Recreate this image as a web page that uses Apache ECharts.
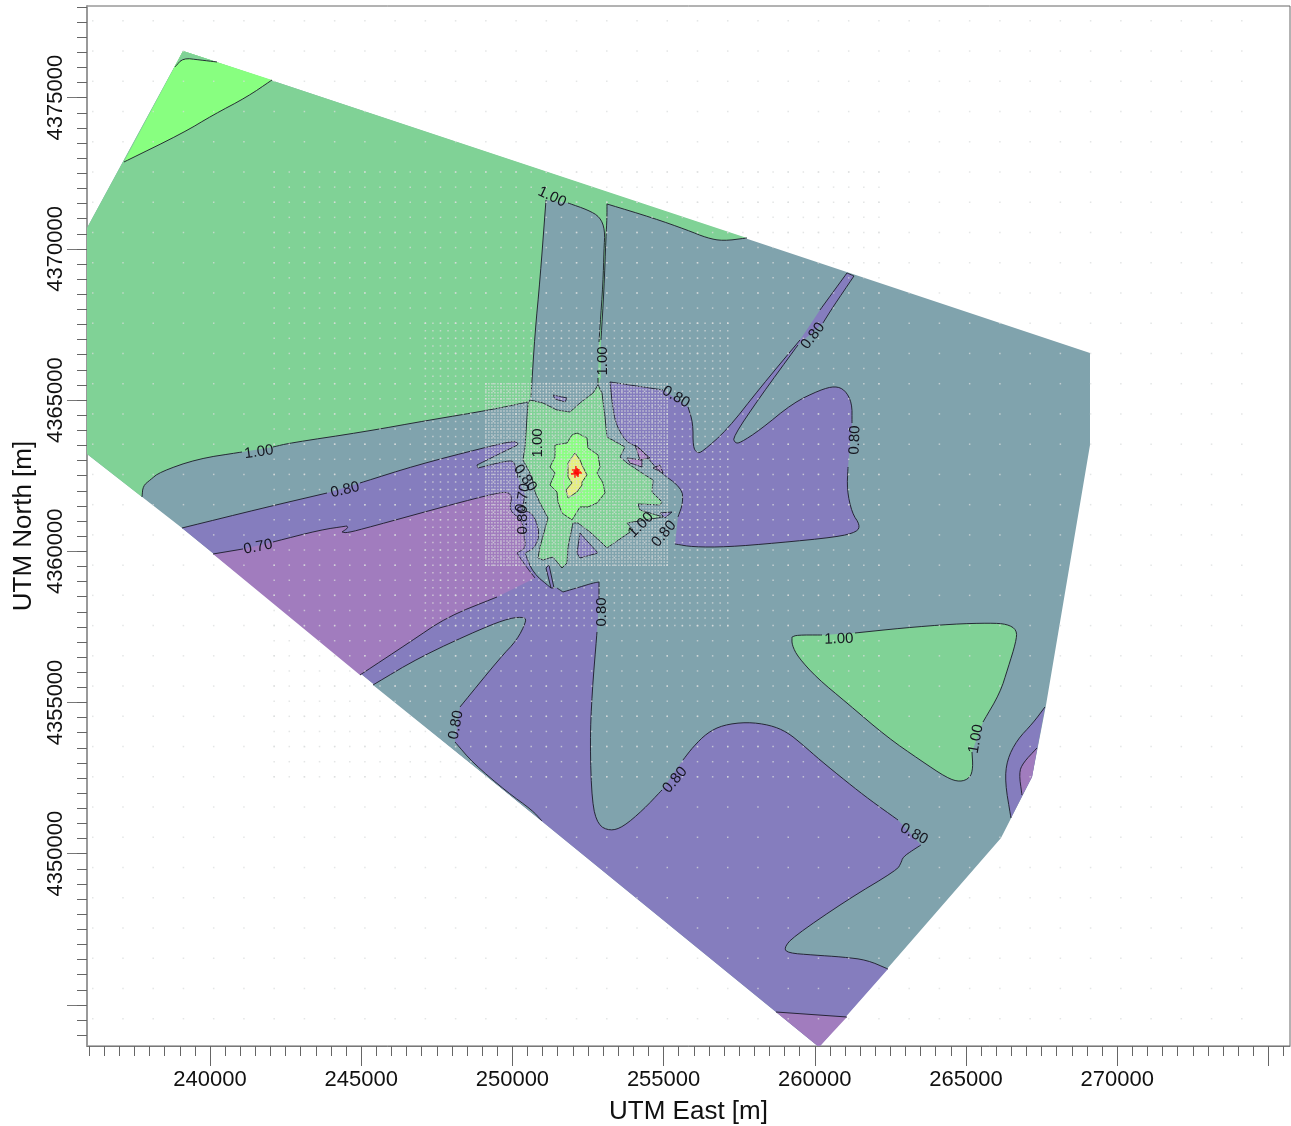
<!DOCTYPE html>
<html>
<head>
<meta charset="utf-8">
<style>html,body{margin:0;padding:0;background:#fff}#chart{width:1291px;height:1126px}</style>
<script src="https://cdn.jsdelivr.net/npm/echarts@6/dist/echarts.min.js"></script>
</head>
<body>
<div id="chart"></div>
<script>
// ---------- axes (UTM metres) ----------
const xMin = 235932, xMax = 275716, yMin = 4343640, yMax = 4378032;
const xMajorTicks = [240000,245000,250000,255000,260000,265000,270000,275000];
const xTickLabels = [240000,245000,250000,255000,260000,265000,270000];
const yMajorTicks = [4345000,4350000,4355000,4360000,4365000,4370000,4375000];
const yTickLabels = [4350000,4355000,4360000,4365000,4370000,4375000];
const xMinorTicks = [236000,236500,237000,237500,238000,238500,239000,239500,240000,240500,241000,241500,242000,242500,243000,243500,244000,244500,245000,245500,246000,246500,247000,247500,248000,248500,249000,249500,250000,250500,251000,251500,252000,252500,253000,253500,254000,254500,255000,255500,256000,256500,257000,257500,258000,258500,259000,259500,260000,260500,261000,261500,262000,262500,263000,263500,264000,264500,265000,265500,266000,266500,267000,267500,268000,268500,269000,269500,270000,270500,271000,271500,272000,272500,273000,273500,274000,274500,275000,275500];
const yMinorTicks = [4344000,4344500,4345000,4345500,4346000,4346500,4347000,4347500,4348000,4348500,4349000,4349500,4350000,4350500,4351000,4351500,4352000,4352500,4353000,4353500,4354000,4354500,4355000,4355500,4356000,4356500,4357000,4357500,4358000,4358500,4359000,4359500,4360000,4360500,4361000,4361500,4362000,4362500,4363000,4363500,4364000,4364500,4365000,4365500,4366000,4366500,4367000,4367500,4368000,4368500,4369000,4369500,4370000,4370500,4371000,4371500,4372000,4372500,4373000,4373500,4374000,4374500,4375000,4375500,4376000,4376500,4377000,4377500,4378000];

// ---------- domain outline ----------
const domainHull = [[235932,4370691],[239107,4376544],[269102,4366557],[269102,4363515],[267647,4354917],[267184,4352536],[266158,4350518],[260140,4343606],[239074,4360770],[235932,4363217]];

// ---------- contours (null = gap for a label; a repeated point keeps a sharp corner) ----------
const nwBright = [[237156,4372874],[239107,4373833],[240099,4374428],[241223,4375023],[242050,4375585]];
const nwCap = [[238842,4376015],[239107,4376313],[239669,4376247],[240231,4376181]];
const west100 = [[237751,4361795],[237784,4362159],[238016,4362357],[238346,4362622],[239569,4363052],[241058,4363283],null,[242083,4363449],[242645,4363581],[245059,4363945],[247275,4364342],[249259,4364672],[250516,4364937]];
const stripeWest100 = [[250615,4365102],[250747,4367219],[250913,4368971],[251111,4371617],null,[251839,4371518],[252500,4371286],[252897,4371055],[253062,4370625],[253029,4369963],[252996,4368872],[252897,4367417],[252864,4366921],null,[252831,4365731],[252831,4365499]];
const stripeEast100 = [[252930,4365731],null,[252930,4366987],[253029,4368641],[253095,4370393],[253128,4371022],[253128,4371485],[253128,4371485],[253128,4371485],[254650,4371022],[255774,4370625],[256436,4370360],[256965,4370261],[257758,4370360]];
const central100 = [[252831,4365499],[252963,4365234],[253062,4364441],[253128,4363779],[253724,4363449],[253558,4363118],[253790,4362920],[254286,4362589],[254650,4362357],[254617,4361961],[254948,4361630],[254881,4361531],[254153,4361564],[254220,4361365],[254981,4361134],[253790,4360935],[253988,4360704],[253128,4360109],[252963,4360274],[252566,4360638],[252169,4360935],[252004,4360935],[251839,4360142],[251806,4359613],[251640,4359447],[251343,4359811],[251012,4359712],[250847,4359778],[250913,4360142],[251177,4361101],[250913,4361597],[250747,4361961],[250648,4362457],[250351,4363019],[250417,4363449],[250516,4364904],[250582,4365003],[251012,4364904],[251475,4364672],[251905,4364606],[252236,4364904],[252666,4365234],[252831,4365499]];
const centralInner = [[252136,4363912],[252467,4363746],[252500,4363416],[252831,4363184],[252897,4362787],[252798,4362589],[252996,4362258],[253062,4361927],[252798,4361597],[252500,4361465],[252236,4361465],[251971,4361035],[251640,4361266],[251508,4361630],[251475,4361961],[251244,4362192],[251409,4362589],[251244,4362787],[251409,4363118],[251409,4363515],[251806,4363581],[251971,4363846],[252136,4363912]];
const centralCore = [[252070,4363250],[252236,4363019],[252302,4362853],[252467,4362523],[252302,4362291],[252302,4362192],[252136,4361961],[251839,4361762],[251773,4362027],[251971,4362258],[251839,4362457],[251839,4362920],[252070,4363250]];
const centralHalo = [[252136,4363283],[251905,4363019],[251673,4362424],[251706,4362093],[251839,4361795],[252236,4361861],[252368,4362192]];
const west80 = [[239074,4360770],[241752,4361431],[243869,4361927],null,[244960,4362258],[246845,4362853],[249028,4363416],[250020,4363647],[250185,4363581],[250185,4363515],[249822,4363349],[248829,4362853],[248829,4362853],[248862,4362754],[248862,4362754],[249921,4363019],[250086,4362920],[250185,4362424],null,[250417,4361861],[250318,4361365],[250318,4361365],[250681,4361266],[250913,4360605],[250747,4360109],[250417,4359943],[250417,4359943],[250681,4359282],[251277,4358786]];
const south80 = [[251475,4358786],[251673,4358654],[251673,4358654],[252236,4358819],[252666,4358951],[252864,4358984],[252864,4358984],[252864,4358455],null,[252798,4357331],[252633,4355313],[252566,4353660],[252633,4351676],[252831,4350948],[253228,4350750],[253657,4350882],[254319,4351444],[254947,4352106],null,[255642,4353098],[255973,4353528],[256436,4353991],[256965,4354255],[257758,4354354],[258519,4354255],[259081,4354024],[259610,4353594],[260172,4353098],[261065,4352370],[261826,4351775],[262752,4351114],null,[263512,4350287],[263249,4350121],[262918,4349890],[262852,4349692],[262719,4349460],[261065,4348468],[259280,4347244],[258982,4346881],[259114,4346715],[259941,4346649],[260933,4346583],[261727,4346484],[262421,4346186]];
const west70 = [[240099,4359910],[241091,4360076],null,[242083,4360307],[243637,4360704],[244530,4360836],[244530,4360836],[244563,4360770],[244365,4360638],[244365,4360638],[244530,4360605],[245291,4360803],[247937,4361531],[249491,4361927],[249855,4361961],[249987,4361795],[249921,4361531],[249954,4361299],[250318,4361035],[250384,4360539],[250450,4360109],[250152,4359943],[250152,4359943],[250417,4359547],[250747,4359116],[250747,4359116]];
const southWest70 = [[249491,4358488],[247837,4357827],[246614,4357000],[244960,4355909]];
const finger80 = [[245390,4355578],[246944,4356504],[249028,4357463],[249921,4357794],[250417,4357827],[250450,4357661],[250152,4357066],[249590,4356471],[248267,4354851],null,[248102,4353693],[248697,4352999],[249822,4352040],[250648,4351444],[250979,4351081]];
const bottom70 = [[258717,4344764],[261065,4344599]];
const east80 = [[267613,4354851],[267217,4354321],[266687,4353759],[266356,4353098],[266290,4352370],[266488,4351180]];
const east70 = [[267349,4353495],[266885,4352999],[266753,4352668],[266852,4351940]];
const eastCentral80 = [[253228,4365598],[253228,4365598],[254981,4365334],null,[255808,4364772],[255973,4364242],[255973,4363449],[256105,4363250],[256270,4363283],[257097,4364011],[258188,4365400],[259511,4366987],null,[260172,4367979],[261065,4369203],[261065,4369203],[261297,4369104],[261297,4369104],[260602,4368079],[260271,4367550],null,[259444,4366822],[258188,4365102],[257295,4363779],[257361,4363581],[257527,4363581],[258188,4364011],[259280,4364904],[260172,4365334],[260669,4365466],[261000,4365334],[261231,4364904],[261231,4364242],null,[261099,4362787],[261065,4362027],[261231,4361266],[261496,4360869],[261396,4360638],[260735,4360472],[258750,4360274],[257097,4360142],[255973,4360142],[255377,4360241],null,[255476,4361134],[255642,4361597],[255609,4362093],[254782,4362688],[254220,4363449],[253790,4363581],[253459,4364110],[253327,4364672],[253228,4365598],[253228,4365598]];
const east100 = [[259246,4357165],[259412,4357231],[260238,4357231],null,[261330,4357298],[262918,4357463],[264571,4357595],[265794,4357628],[266357,4357595],[266687,4357397],[266654,4357000],[266390,4356140],[266125,4355313],[265563,4354354],null,[265199,4353362],[265232,4352833],[265134,4352503],[264802,4352370],[264373,4352503],[263479,4353098],[262388,4353858],[261065,4354983],[260073,4355810],[259444,4356504],[259246,4356901],[259246,4357165]];
const patchA = [[254055,4363515],[254551,4363085],[254220,4363019],[254055,4363515]];
const patchB = [[253790,4363085],[254286,4363019],[254286,4362787],[253889,4362920],[253790,4363085]];
const patchC = [[254650,4362754],[254881,4362853],[254981,4362589],[254650,4362754]];
const patchD = [[254881,4361266],[255278,4361299],[255047,4361101],[254881,4361266]];
const patchE = [[251343,4365168],[251806,4365069],[251740,4364937],[251409,4365036],[251343,4365168]];
const patchF = [[252236,4360605],[252500,4360307],[252831,4359943],[252236,4359778],[252136,4359943],[252236,4360605]];
const patchG = [[251111,4359447],[251210,4359547],[251376,4358786],[251277,4358786],[251111,4359447]];

// ---------- contour labels ----------
const contourLabelText = ['1.00','1.00','0.80','0.80','0.80','1.00','0.80','0.70','1.00','0.80','0.70','0.80','1.00','0.80','0.80','1.00','1.00','0.80','0.80','0.80'];
const contourLabelX = [251310,252996,259941,255410,261330,241620,244464,241587,250847,250417,250351,250351,254253,255014,252963,260800,265332,248135,255377,263281];
const contourLabelY = [4371716,4366293,4367119,4365102,4363680,4363283,4362027,4360142,4363581,4362424,4361762,4361035,4360869,4360572,4357992,4357099,4353792,4354255,4352436,4350651];
const contourLabelAngle = [-25,90,52,-30,88,8,13,11,90,-55,80,90,45,50,90,2,80,80,50,-28];

// ---------- receptor grids ----------
const col1000 = [236122,237122,238122,239122,240122,241122,242122,243122,244122,245122,246122,247122,248122,249122,250122,251122,252122,253122,254122,255122,256122,257122,258122,259122,260122,261122,262122,263122,264122,265122,266122,267122,268122,269122,270122,271122,272122,273122,274122];
const row1000 = [4344542,4345542,4346542,4347542,4348542,4349542,4350542,4351542,4352542,4353542,4354542,4355542,4356542,4357542,4358542,4359542,4360542,4361542,4362542,4363542,4364542,4365542,4366542,4367542,4368542,4369542,4370542,4371542,4372542,4373542,4374542,4375542,4376542,4377542];
const col500 = [242122,242622,243122,243622,244122,244622,245122,245622,246122,246622,247122,247622,248122,248622,249122,249622,250122,250622,251122,251622,252122,252622,253122,253622,254122,254622,255122,255622,256122,256622,257122,257622,258122,258622,259122,259622,260122,260622,261122,261622,262122];
const row500 = [4352542,4353042,4353542,4354042,4354542,4355042,4355542,4356042,4356542,4357042,4357542,4358042,4358542,4359042,4359542,4360042,4360542,4361042,4361542,4362042,4362542,4363042,4363542,4364042,4364542,4365042,4365542,4366042,4366542,4367042,4367542,4368042,4368542,4369042,4369542,4370042,4370542,4371042,4371542,4372042,4372542];
const col250 = [247122,247372,247622,247872,248122,248372,248622,248872,249122,249372,249622,249872,250122,250372,250622,250872,251122,251372,251622,251872,252122,252372,252622,252872,253122,253372,253622,253872,254122,254372,254622,254872,255122,255372,255622,255872,256122,256372,256622,256872,257122];
const row250 = [4357542,4357792,4358042,4358292,4358542,4358792,4359042,4359292,4359542,4359792,4360042,4360292,4360542,4360792,4361042,4361292,4361542,4361792,4362042,4362292,4362542,4362792,4363042,4363292,4363542,4363792,4364042,4364292,4364542,4364792,4365042,4365292,4365542,4365792,4366042,4366292,4366542,4366792,4367042,4367292,4367542];
const col100 = [249122,249222,249322,249422,249522,249622,249722,249822,249922,250022,250122,250222,250322,250422,250522,250622,250722,250822,250922,251022,251122,251222,251322,251422,251522,251622,251722,251822,251922,252022,252122,252222,252322,252422,252522,252622,252722,252822,252922,253022,253122,253222,253322,253422,253522,253622,253722,253822,253922,254022,254122,254222,254322,254422,254522,254622,254722,254822,254922,255022,255122];
const row100 = [4359542,4359642,4359742,4359842,4359942,4360042,4360142,4360242,4360342,4360442,4360542,4360642,4360742,4360842,4360942,4361042,4361142,4361242,4361342,4361442,4361542,4361642,4361742,4361842,4361942,4362042,4362142,4362242,4362342,4362442,4362542,4362642,4362742,4362842,4362942,4363042,4363142,4363242,4363342,4363442,4363542,4363642,4363742,4363842,4363942,4364042,4364142,4364242,4364342,4364442,4364542,4364642,4364742,4364842,4364942,4365042,4365142,4365242,4365342,4365442,4365542];

// ---------- source points ----------
const sourcePoints = [[252100,4362690],[252137,4362622],[252070,4362560],[252170,4362590]];

// ---------- colours ----------
const TEAL='#80A3AD', GREEN='#80D296', BRIGHT='#88FF80', BLUE='#857DBE', PINK='#A17CBE', YELLOW='#E6F07C';

const corner = p => [p];
const fillLayers = [
  [TEAL, [domainHull]],
  [GREEN, [corner(domainHull[9]), west100, stripeWest100, stripeEast100, corner(domainHull[1]), corner(domainHull[0])]],
  [BRIGHT, [nwBright, corner(domainHull[1])]],
  [GREEN, [nwCap, corner(domainHull[1])]],
  [BLUE, [west80, south80, corner(domainHull[7])]],
  [PINK, [west70, southWest70]],
  [PINK, [bottom70, corner(domainHull[7])]],
  [TEAL, [finger80]],
  [BLUE, [east80, corner(domainHull[5])]],
  [PINK, [east70, corner(domainHull[5])]],
  [BLUE, [eastCentral80]],
  [GREEN, [east100]],
  [GREEN, [central100]],
  [BLUE, [patchF]],
  [BLUE, [patchG]],
  [BLUE, [patchE]],
  [PINK, [patchA]],
  [PINK, [patchB]],
  [PINK, [patchC]],
  [BLUE, [patchD]],
  [BRIGHT, [centralInner]],
  [YELLOW, [centralCore]]
];
const darkLines = [nwBright,nwCap,west100,stripeWest100,stripeEast100,central100,centralInner,centralCore,west80,south80,west70,southWest70,finger80,bottom70,east80,east70,eastCentral80,east100,patchA,patchB,patchC,patchD,patchE,patchF,patchG];
const jaggedLines = [central100,centralInner,centralCore,patchA,patchB,patchC,patchD,patchE,patchF,patchG];

const receptorGrids = [[col1000,row1000],[col500,row500],[col250,row250],[col100,row100]];
const receptorPoints = [];
receptorGrids.forEach(([cols,rows]) => rows.forEach(y => cols.forEach(x => receptorPoints.push([x,y]))));

function pieces(line){
  const out=[]; let cur=[];
  line.forEach(p=>{ if(p===null){ if(cur.length) out.push(cur); cur=[]; } else cur.push(p); });
  if(cur.length) out.push(cur);
  return out;
}
// the drawn curve rounds the corners of a traced contour, on screen only
function rounded(pts){
  let cur = pts;
  for(let n=0;n<2 && cur.length>2;n++){
    const next=[cur[0]];
    for(let i=0;i<cur.length-1;i++){
      const a=cur[i], b=cur[i+1];
      next.push([a[0]*.75+b[0]*.25, a[1]*.75+b[1]*.25],[a[0]*.25+b[0]*.75, a[1]*.25+b[1]*.75]);
    }
    next.push(cur[cur.length-1]);
    cur=next;
  }
  return cur;
}
function screenPieces(line, api){
  const jagged = jaggedLines.indexOf(line)>=0 || line===domainHull;
  return pieces(line).map(seg=>{
    const px = seg.map(p=>api.coord(p));
    return jagged ? px : rounded(px);
  });
}
function renderFill(params, api){
  const layer = fillLayers[params.dataIndex];
  const pts = [];
  layer[1].forEach(part => screenPieces(part, api).forEach(seg => seg.forEach(p => pts.push(p))));
  return {type:'polygon', silent:true, shape:{points:pts}, style:{fill:layer[0], stroke:null}};
}
function renderLines(lines, color, width){
  return function(params, api){
    return {type:'group', children: screenPieces(lines[params.dataIndex], api).map(seg=>({
      type:'polyline', silent:true, shape:{points:seg},
      style:{stroke:color, fill:null, lineWidth:width}
    }))};
  };
}
function renderLabel(params, api){
  const i = params.dataIndex, at = api.coord([contourLabelX[i], contourLabelY[i]]);
  return {type:'text', silent:true, x:at[0], y:at[1], rotation:contourLabelAngle[i]*Math.PI/180,
    style:{text:contourLabelText[i], x:0, y:0, fill:'#15151f', fontSize:15, fontFamily:'"Liberation Sans",Arial,sans-serif', align:'center', verticalAlign:'middle'}};
}
const axisFont = {fontFamily:'"Liberation Sans",Arial,sans-serif', color:'#111'};
const nameFont = {fontFamily:'"Liberation Sans",Arial,sans-serif', color:'#111', fontSize:26};
const idx = a => a.map((_,i)=>i);

const chart = echarts.init(document.getElementById('chart'), null, {renderer:'canvas', width:1291, height:1126});
chart.setOption({
  animation:false,
  backgroundColor:'#fff',
  grid:{left:87, right:1, top:6, bottom:80, show:true, borderColor:'#666', borderWidth:1, backgroundColor:'transparent', containLabel:false, outerBoundsMode:'none'},
  xAxis:[
    {type:'value', min:xMin, max:xMax, position:'bottom', splitLine:{show:false},
     name:'UTM East [m]', nameLocation:'middle', nameGap:53, nameTextStyle:nameFont,
     axisLine:{show:true, onZero:false, lineStyle:{color:'#777', width:1}},
     axisTick:{show:true, length:20, customValues:xMajorTicks, lineStyle:{color:'#666', width:1}},
     axisLabel:{show:true, margin:23, fontSize:22, customValues:xTickLabels, formatter:v=>String(v), hideOverlap:false, ...axisFont}},
    {type:'value', min:xMin, max:xMax, position:'bottom', splitLine:{show:false},
     axisLine:{show:false, onZero:false},
     axisTick:{show:true, length:10, customValues:xMinorTicks, lineStyle:{color:'#666', width:1}},
     axisLabel:{show:false}}
  ],
  yAxis:[
    {type:'value', min:yMin, max:yMax, position:'left', splitLine:{show:false},
     name:'UTM North [m]', nameLocation:'middle', nameGap:49, nameRotate:90, nameTextStyle:nameFont,
     axisLine:{show:true, onZero:false, lineStyle:{color:'#999', width:2}},
     axisTick:{show:true, length:20, customValues:yMajorTicks, lineStyle:{color:'#777', width:1}},
     axisLabel:{show:true, rotate:90, margin:20, fontSize:22, customValues:yTickLabels, formatter:v=>String(v), hideOverlap:false, ...axisFont}},
    {type:'value', min:yMin, max:yMax, position:'left', splitLine:{show:false},
     axisLine:{show:false, onZero:false},
     axisTick:{show:true, length:10, customValues:yMinorTicks, lineStyle:{color:'#666', width:1}},
     axisLabel:{show:false}}
  ],
  series:[
    {type:'custom', xAxisIndex:0, yAxisIndex:0, clip:true, silent:true, data:idx(fillLayers), renderItem:renderFill, z:1},
    {type:'custom', xAxisIndex:0, yAxisIndex:0, clip:true, silent:true, data:idx(darkLines), renderItem:renderLines(darkLines,'#1b1b28',0.9), z:2},
    {type:'custom', xAxisIndex:0, yAxisIndex:0, clip:true, silent:true, data:[0], renderItem:renderLines([centralHalo],'#c4c8c4',1), z:2},
    {type:'scatter', xAxisIndex:0, yAxisIndex:0, data:receptorPoints, symbol:'rect', symbolSize:1.5, silent:true, z:3, progressive:0,
     itemStyle:{color:'#d9dcdd', opacity:0.72}},
    {type:'custom', xAxisIndex:0, yAxisIndex:0, clip:false, silent:true, data:idx(contourLabelText), renderItem:renderLabel, z:4},
    {type:'scatter', xAxisIndex:0, yAxisIndex:0, data:sourcePoints, silent:true, z:5, symbolSize:8,
     symbol:'path://M4 0H6V4H10V6H6V10H4V6H0V4H4Z', itemStyle:{color:'#ff0000'}}
  ]
});
</script>
</body>
</html>
